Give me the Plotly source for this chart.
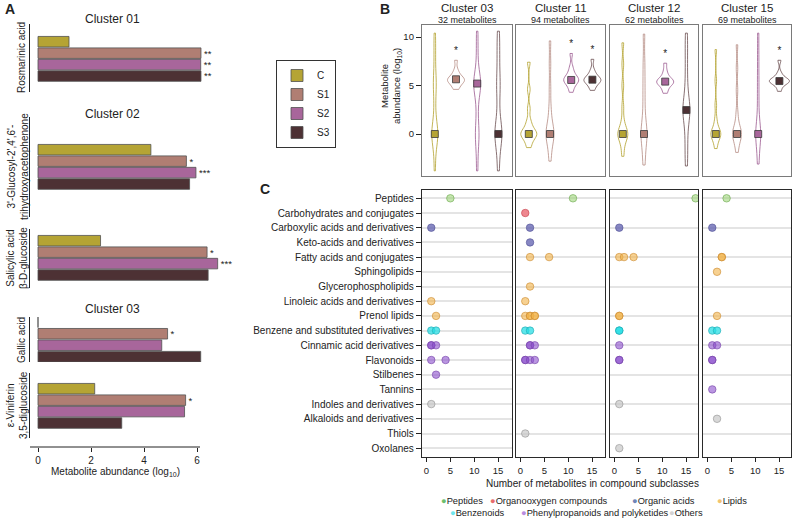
import plotly.graph_objects as go

W, H = 794, 525
FONT = "Liberation Sans, Arial, sans-serif"
INK = "#222222"


def X(p):
    return p / W


def Y(p):
    return 1 - p / H


def dom_x(l, r):
    return [l / W, r / W]


def dom_y(t, b):
    return [1 - b / H, 1 - t / H]


# ---------------- data ----------------
groups = ["C", "S1", "S2", "S3"]
bar_colors = {"C": "#B5A434", "S1": "#B07E73", "S2": "#A8669B", "S3": "#4D3134"}
line_colors = {"C": "#B3A12C", "S1": "#B58C83", "S2": "#9C5A90", "S3": "#6A4C4F"}

# Panel A
compound_labels = ["Rosmarinic acid",
                   "3'-Glucosyl-2',4',6'-<br>trihydroxyacetophenone",
                   "Salicylic acid<br>β-D-glucoside",
                   "Gallic acid",
                   "ε-Viniferin<br>3,5-diglucoside"]
cluster_titles_A = ["Cluster 01", "Cluster 02", "Cluster 03"]
abund_C = [1.17, 4.26, 2.36, 0.0, 2.14]
abund_S1 = [6.15, 5.60, 6.38, 4.89, 5.57]
abund_S2 = [6.14, 5.96, 6.78, 4.67, 5.53]
abund_S3 = [6.15, 5.72, 6.42, 6.14, 3.16]
sig_C = ["", "", "", "", ""]
sig_S1 = ["**", "*", "*", "*", "*"]
sig_S2 = ["**", "***", "***", "", ""]
sig_S3 = ["**", "", "", "", ""]
xticks_A = [0, 2, 4, 6]

# Panel B
clusters_B = ["Cluster 03", "Cluster 11", "Cluster 12", "Cluster 15"]
n_metabolites = [32, 94, 62, 69]
c03_samples = {
    "C": [-3.8, -2.0, -0.9, -0.3, 0, 0, 0, 0.3, 0.9, 2.0, 3.5, 4.8, 5.3, 5.8, 7.5, 9.0, 10.4],
    "S1": [4.6, 4.9, 5.2, 5.4, 5.5, 5.6, 5.6, 5.7, 5.9, 6.2, 6.6, 7.6],
    "S2": [-3.8, -1.8, -0.5, 0, 0.5, 2.0, 3.6, 4.6, 5.0, 5.2, 5.2, 5.4, 5.8, 7.0, 8.8, 10.6],
    "S3": [-3.8, -2.0, -0.8, 0, 0, 0, 0.8, 2.0, 3.8, 5.0, 5.8, 7.5, 9.0, 10.6],
}
c11_samples = {
    "C": [-1.4, -0.9, -0.5, -0.2, 0, 0, 0, 0.2, 0.5, 0.9, 1.4, 2.6, 4.6, 7.4],
    "S1": [-2.8, -1.6, -0.8, -0.3, 0, 0, 0.3, 0.8, 1.6, 2.8, 4.8, 7.2, 9.6],
    "S2": [4.3, 4.8, 5.2, 5.4, 5.5, 5.6, 5.6, 5.8, 6.0, 6.4, 6.9, 8.3],
    "S3": [4.5, 4.9, 5.2, 5.4, 5.5, 5.6, 5.6, 5.7, 5.9, 6.2, 6.6, 7.7],
}
c12_samples = {
    "C": [-2.3, -1.3, -0.7, -0.3, 0, 0, 0, 0.3, 0.7, 1.4, 2.8, 5.0, 7.2, 9.4],
    "S1": [-3.2, -1.8, -0.6, 0, 0, 0.6, 1.8, 3.6, 5.4, 7.4, 10.3],
    "S2": [4.2, 4.6, 5.0, 5.2, 5.3, 5.4, 5.4, 5.5, 5.7, 6.0, 6.5, 7.3],
    "S3": [-3.3, -1.8, -0.3, 1.2, 2.2, 2.47, 2.47, 2.8, 3.8, 5.2, 7.0, 8.8, 10.4],
}
c15_samples = {
    "C": [-1.5, -0.9, -0.5, -0.2, 0, 0, 0, 0.2, 0.5, 0.9, 1.6, 3.0, 5.5, 8.7],
    "S1": [-1.9, -1.1, -0.5, -0.1, 0, 0, 0.1, 0.5, 1.1, 2.2, 4.5, 6.8, 9.2],
    "S2": [-3.1, -1.6, -0.5, 0, 0, 0.5, 1.8, 3.8, 5.8, 8.0, 10.4],
    "S3": [4.4, 4.9, 5.2, 5.35, 5.4, 5.46, 5.46, 5.55, 5.7, 5.9, 6.3, 7.6],
}
c03_medians = [0, 5.64, 5.2, 0]
c11_medians = [0, 0, 5.57, 5.6]
c12_medians = [0, 0, 5.4, 2.47]
c15_medians = [0, 0, 0, 5.46]
c03_sig = ["", "*", "", ""]
c11_sig = ["", "", "*", "*"]
c12_sig = ["", "", "*", ""]
c15_sig = ["", "", "", "*"]
yticks_B = [0, 5, 10]

# Panel C
subclasses = ["Peptides", "Carbohydrates and conjugates", "Carboxylic acids and derivatives",
              "Keto-acids and derivatives", "Fatty acids and conjugates", "Sphingolipids",
              "Glycerophospholipids", "Linoleic acids and derivatives", "Prenol lipids",
              "Benzene and substituted derivatives", "Cinnamic acid derivatives", "Flavonoids",
              "Stilbenes", "Tannins", "Indoles and derivatives", "Alkaloids and derivatives",
              "Thiols", "Oxolanes"]
superclass_of = {
    "Peptides": "Peptides",
    "Carbohydrates and conjugates": "Organooxygen compounds",
    "Carboxylic acids and derivatives": "Organic acids",
    "Keto-acids and derivatives": "Organic acids",
    "Fatty acids and conjugates": "Lipids",
    "Sphingolipids": "Lipids",
    "Glycerophospholipids": "Lipids",
    "Linoleic acids and derivatives": "Lipids",
    "Prenol lipids": "Lipids",
    "Benzene and substituted derivatives": "Benzenoids",
    "Cinnamic acid derivatives": "Phenylpropanoids and polyketides",
    "Flavonoids": "Phenylpropanoids and polyketides",
    "Stilbenes": "Phenylpropanoids and polyketides",
    "Tannins": "Phenylpropanoids and polyketides",
    "Indoles and derivatives": "Others",
    "Alkaloids and derivatives": "Others",
    "Thiols": "Others",
    "Oxolanes": "Others",
}
superclasses = ["Peptides", "Organooxygen compounds", "Organic acids", "Lipids",
                "Benzenoids", "Phenylpropanoids and polyketides", "Others"]
c03_counts = {"Peptides": [5], "Carboxylic acids and derivatives": [1],
              "Linoleic acids and derivatives": [1], "Prenol lipids": [2],
              "Benzene and substituted derivatives": [1, 2],
              "Cinnamic acid derivatives": [1, 1, 2], "Flavonoids": [1, 4],
              "Stilbenes": [2], "Indoles and derivatives": [1]}
c11_counts = {"Peptides": [11], "Carbohydrates and conjugates": [1],
              "Carboxylic acids and derivatives": [2], "Keto-acids and derivatives": [2],
              "Fatty acids and conjugates": [2, 6], "Glycerophospholipids": [2],
              "Linoleic acids and derivatives": [1], "Prenol lipids": [1, 2, 2, 3, 3],
              "Benzene and substituted derivatives": [1, 2],
              "Cinnamic acid derivatives": [2, 2, 3], "Flavonoids": [1, 1, 2, 3],
              "Thiols": [1]}
c12_counts = {"Peptides": [17], "Carboxylic acids and derivatives": [1],
              "Fatty acids and conjugates": [1, 2, 4], "Prenol lipids": [1, 1],
              "Benzene and substituted derivatives": [1, 1],
              "Cinnamic acid derivatives": [1], "Flavonoids": [1, 1],
              "Indoles and derivatives": [1], "Oxolanes": [1]}
c15_counts = {"Peptides": [4], "Carboxylic acids and derivatives": [1],
              "Fatty acids and conjugates": [3, 3], "Sphingolipids": [2],
              "Prenol lipids": [2], "Benzene and substituted derivatives": [1, 2],
              "Cinnamic acid derivatives": [1, 2], "Flavonoids": [1, 1],
              "Tannins": [1], "Alkaloids and derivatives": [2]}
xticks_C = [0, 5, 10, 15]

dot_fill = {"Peptides": "rgba(150,210,110,0.55)", "Organooxygen compounds": "rgba(232,95,105,0.75)",
            "Organic acids": "rgba(95,95,175,0.75)", "Lipids": "rgba(242,178,72,0.6)",
            "Benzenoids": "rgba(40,222,228,0.75)", "Phenylpropanoids and polyketides": "rgba(140,80,205,0.6)",
            "Others": "rgba(195,195,195,0.65)"}
dot_edge = {"Peptides": "rgba(110,170,80,0.8)", "Organooxygen compounds": "rgba(200,70,80,0.8)",
            "Organic acids": "rgba(80,80,150,0.8)", "Lipids": "rgba(205,140,50,0.8)",
            "Benzenoids": "rgba(30,170,180,0.8)", "Phenylpropanoids and polyketides": "rgba(120,70,170,0.8)",
            "Others": "rgba(150,150,150,0.8)"}
legend_dot = {"Peptides": "#6DBF6D", "Organooxygen compounds": "#E86C6C", "Organic acids": "#6F86B8",
              "Lipids": "#F2C46F", "Benzenoids": "#6FE6EE", "Phenylpropanoids and polyketides": "#B88CE0",
              "Others": "#D2D2D2"}

# ---------------- figure ----------------
fig = go.Figure()
layout = dict(width=W, height=H, margin=dict(l=0, r=0, t=0, b=0, pad=0, autoexpand=False),
              template="none",
              paper_bgcolor="white", plot_bgcolor="white",
              font=dict(family=FONT, size=10, color=INK),
              barmode="overlay", violinmode="overlay", showlegend=True)
annotations = []
shapes = []


def ann(text, x, y, size=10, xanchor="center", yanchor="middle", angle=0, bold=False):
    if bold:
        text = "<b>" + text + "</b>"
    annotations.append(dict(text=text, x=X(x), y=Y(y), xref="paper", yref="paper",
                            showarrow=False, xanchor=xanchor, yanchor=yanchor,
                            textangle=angle, font=dict(size=size, family=FONT, color=INK)))


# ---- Panel A ----
abund = {"C": abund_C, "S1": abund_S1, "S2": abund_S2, "S3": abund_S3}
sig = {"C": sig_C, "S1": sig_S1, "S2": sig_S2, "S3": sig_S3}
A_boxes = [(24, 92, 41.7), (117, 217, 149.7), (229, 288, 240.7), (317, 362, 322.3), (373, 438, 388.7)]
A_label_pos = [(21, 58), (18, 167), (17, 258), (21, 340), (17, 405)]
P = 11.45
A_px = 26.5
A_zero = 38
layout["xaxis"] = dict(domain=dom_x(30, 240), range=[(30 - A_zero) / A_px, (240 - A_zero) / A_px],
                       anchor="free", position=Y(447), tickvals=xticks_A, ticks="outside",
                       ticklen=4, tickcolor=INK, showline=False, showgrid=False, zeroline=False,
                       tickfont=dict(size=10), automargin=False)
shapes.append(dict(type="line", xref="x", yref="paper", x0=(30 - A_zero) / A_px,
                   x1=(200 - A_zero) / A_px, y0=Y(447), y1=Y(447), line=dict(color=INK, width=1)))
for i, (top, bot, c0) in enumerate(A_boxes):
    yname = "yaxis" if i == 0 else f"yaxis{i + 1}"
    yref = "y" if i == 0 else f"y{i + 1}"
    r0 = -(c0 - top) / P
    r1 = r0 + (bot - top) / P
    layout[yname] = dict(domain=dom_y(top, bot), anchor="x", type="category",
                         categoryarray=groups, range=[r1, r0], showline=True,
                         linecolor=INK, linewidth=1, ticks="", showticklabels=False,
                         showgrid=False, zeroline=False, automargin=False)
    for g in groups:
        star = sig[g][i]
        bar_kw = dict(text=[star], textposition="outside", cliponaxis=False,
                      textfont=dict(size=10, color=INK)) if star else dict(textposition="none")
        fig.add_trace(go.Bar(orientation="h", x=[abund[g][i]], y=[g], xaxis="x", yaxis=yref,
                             width=0.92,
                             marker=dict(color=bar_colors[g], line=dict(color="#505050", width=0.8)),
                             name=g, legendgroup=g, showlegend=(i == 0), legend="legend",
                             **bar_kw))
    lx, ly = A_label_pos[i]
    ann(compound_labels[i], lx, ly, size=10, angle=-90)

for t, yy in zip(cluster_titles_A, [19, 114, 309]):
    ann(t, 113, yy, size=12)
ann("Metabolite abundance (log<sub>10</sub>)", 115, 472, size=10)
ann("A", 3, 9, size=14, xanchor="left", bold=True)

layout["legend"] = dict(x=X(276), y=Y(60), xanchor="left", yanchor="top",
                        bordercolor="#333", borderwidth=1, bgcolor="white",
                        font=dict(size=10, family=FONT), tracegroupgap=0,
                        itemwidth=30)

# ---- Panel B ----
cols = [(422, 512), (516, 605), (610, 698), (703, 791)]
B_top, B_bot, B_zero, B_px = 25, 176, 134, 9.7
B_off, B_sp = 12.8, 21.2
samples_all = [c03_samples, c11_samples, c12_samples, c15_samples]
medians_all = [c03_medians, c11_medians, c12_medians, c15_medians]
sig_all = [c03_sig, c11_sig, c12_sig, c15_sig]
vwidth_px = [[6, 17, 7, 7], [16, 8, 15, 17], [10, 6, 17, 7], [10, 9, 5, 20]]
bandw = [[1.1, 0.35, 1.1, 1.2], [0.45, 0.9, 0.4, 0.35], [0.6, 1.1, 0.35, 1.2], [0.5, 0.7, 1.1, 0.3]]
for k, (l, r) in enumerate(cols):
    xi, yi = 2 + k, 6 + k
    layout[f"xaxis{xi}"] = dict(domain=dom_x(l, r), anchor=f"y{yi}", type="category",
                                categoryarray=groups,
                                range=[-B_off / B_sp, (r - l - B_off) / B_sp],
                                showline=True, mirror=True, linecolor="#7a7a7a", linewidth=1.3,
                                ticks="", showticklabels=False, showgrid=False, zeroline=False,
                                automargin=False)
    layout[f"yaxis{yi}"] = dict(domain=dom_y(B_top, B_bot), anchor=f"x{xi}",
                                range=[(B_zero - B_bot) / B_px, (B_zero - B_top) / B_px],
                                showline=True, mirror=True, linecolor="#7a7a7a", linewidth=1.3,
                                tickvals=yticks_B, ticks="outside" if k == 0 else "",
                                ticklen=5, tickcolor=INK, showticklabels=(k == 0),
                                tickfont=dict(size=9.5), showgrid=False, zeroline=False,
                                automargin=False)
    for j, g in enumerate(groups):
        s = samples_all[k][g]
        fig.add_trace(go.Violin(x=[g] * len(s), y=s, xaxis=f"x{xi}", yaxis=f"y{yi}",
                                line=dict(color=line_colors[g], width=0.8),
                                fillcolor="rgba(255,255,255,0)", points=False,
                                box=dict(visible=False), meanline=dict(visible=False),
                                spanmode="hard", scalemode="width",
                                width=vwidth_px[k][j] / B_sp, bandwidth=bandw[k][j],
                                showlegend=False, hoverinfo="skip"))
    fig.add_trace(go.Scatter(x=groups, y=medians_all[k], mode="markers",
                             xaxis=f"x{xi}", yaxis=f"y{yi}",
                             marker=dict(symbol="square", size=7,
                                         color=[bar_colors[g] for g in groups],
                                         line=dict(color="#3a3a3a", width=0.8)),
                             showlegend=False, hoverinfo="skip"))
    sx = [g for g, t in zip(groups, sig_all[k]) if t]
    sy = [max(samples_all[k][g]) + 0.9 for g, t in zip(groups, sig_all[k]) if t]
    fig.add_trace(go.Scatter(x=sx, y=sy, mode="text", text=["*"] * len(sx),
                             textfont=dict(size=10, color=INK), xaxis=f"x{xi}", yaxis=f"y{yi}",
                             showlegend=False, hoverinfo="skip", cliponaxis=False))
    cx = (l + r) / 2
    ann(clusters_B[k], cx, 8, size=11.5)
    ann(f"{n_metabolites[k]} metabolites", cx, 19.5, size=9)

ann("Metabolite<br>abundance (log<sub>10</sub>)", 391, 86, size=9.5, angle=-90)
ann("B", 378, 9, size=14, xanchor="left", bold=True)

# ---- Panel C ----
C_top, C_bot, C_first, C_pitch = 190, 457, 198.3, 14.7
C_off, C_px = 4.5, 4.77
counts_all = [c03_counts, c11_counts, c12_counts, c15_counts]
for k, (l, r) in enumerate(cols):
    xi, yi = 6 + k, 10 + k
    r0 = -(C_first - C_top) / C_pitch
    r1 = r0 + (C_bot - C_top) / C_pitch
    layout[f"xaxis{xi}"] = dict(domain=dom_x(l, r), anchor=f"y{yi}",
                                range=[-C_off / C_px, (r - l - C_off) / C_px],
                                tickvals=xticks_C, ticks="outside", ticklen=4, tickcolor=INK,
                                showline=True, mirror=True, linecolor="#2a2a2a", linewidth=1.3,
                                showgrid=False, zeroline=False, tickfont=dict(size=9.5),
                                automargin=False)
    layout[f"yaxis{yi}"] = dict(domain=dom_y(C_top, C_bot), anchor=f"x{xi}", type="category",
                                categoryarray=subclasses, range=[r1, r0],
                                showline=True, mirror=True, linecolor="#2a2a2a", linewidth=1.3,
                                showgrid=True, gridcolor="#e4e4e4", gridwidth=1.5,
                                ticks="outside" if k == 0 else "", ticklen=5, tickcolor=INK,
                                showticklabels=(k == 0), tickfont=dict(size=10), zeroline=False,
                                automargin=False)
    for sc in superclasses:
        xs, ys = [], []
        for sub in subclasses:
            if superclass_of[sub] == sc and sub in counts_all[k]:
                for v in counts_all[k][sub]:
                    xs.append(v)
                    ys.append(sub)
        if xs:
            fig.add_trace(go.Scatter(x=xs, y=ys, mode="markers", xaxis=f"x{xi}", yaxis=f"y{yi}",
                                     marker=dict(size=7.5, color=dot_fill[sc],
                                                 line=dict(color=dot_edge[sc], width=0.8)),
                                     showlegend=False, hoverinfo="skip", cliponaxis=True))

ann("Number of metabolites in compound subclasses", 592, 483, size=10)
ann("C", 258, 189, size=14, xanchor="left", bold=True)

legend_items = [("Peptides", 439, 501), ("Organooxygen compounds", 488, 501),
                ("Organic acids", 630, 501), ("Lipids", 715, 501),
                ("Benzenoids", 448, 513), ("Phenylpropanoids and polyketides", 519, 513),
                ("Others", 667, 513)]
for name, lx, ly in legend_items:
    ann(f'<span style="color:{legend_dot[name]}">●</span>{name}', lx, ly, size=9.3, xanchor="left")

layout["annotations"] = annotations
layout["shapes"] = shapes
fig.update_layout(**layout)
fig.write_html("out.html", config={"displayModeBar": False},
               post_script="document.body.style.margin='0px';document.body.style.padding='0px';"
                           "document.body.style.overflow='hidden';")
